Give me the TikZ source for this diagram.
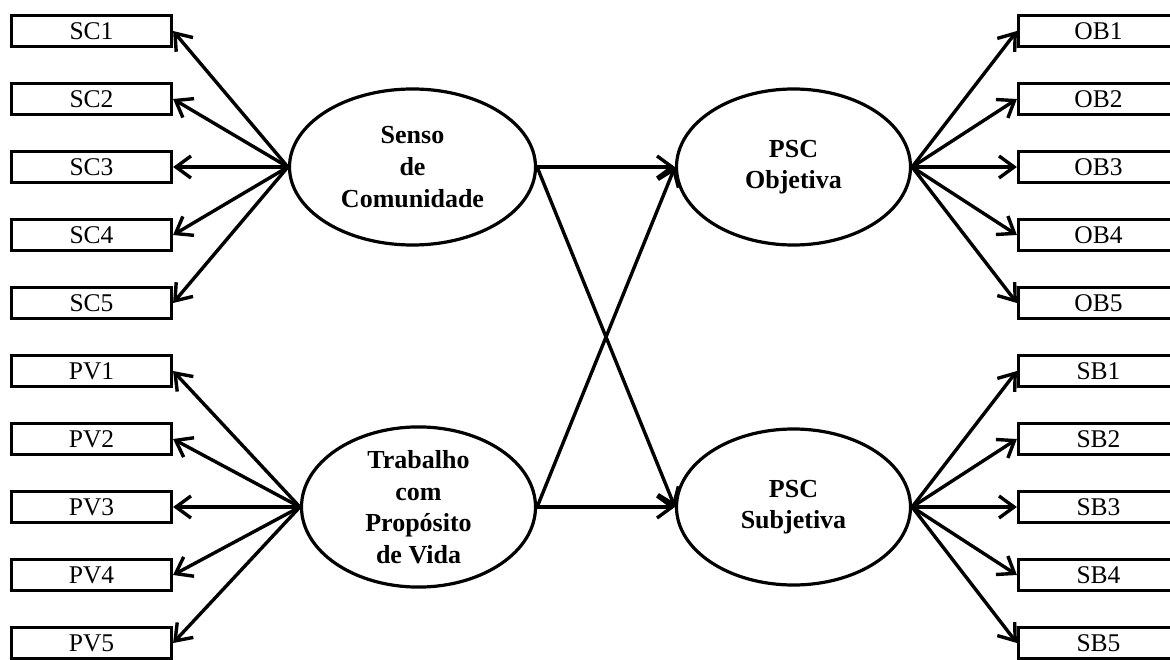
\documentclass[tikz,border=0pt]{standalone}
\usepackage{fontspec}
\setmainfont{Liberation Serif}
\usetikzlibrary{shapes.geometric, arrows.meta, positioning}

\begin{document}
\begin{tikzpicture}[
    x=1pt, y=-1pt,
    indicator/.style={
        rectangle,
        draw,
        line width=3.2pt,
        minimum width=160pt,
        minimum height=31pt,
        inner sep=0pt,
        font=\fontsize{25.5}{30}\selectfont
    },
    construct/.style={
        ellipse,
        draw,
        line width=3.2pt,
        minimum width=234pt,
        minimum height=156pt,
        inner sep=0pt,
        align=center,
        font=\fontsize{26}{31.6}\selectfont\bfseries
    },
    path arrow/.style={line width=3.4pt, -{Straight Barb[length=15pt, width=22pt]}}
]
    \useasboundingbox (0,0) rectangle (1170,660);
    \clip (0,0) rectangle (1170,660);

    % latent variables
    \node[construct, minimum width=246pt] (senso) at (412.5,167) {Senso\\de\\Comunidade};
    \node[construct] (trabalho) at (418.5,507) {Trabalho\\com\\Propósito\\de Vida};
    \node[construct] (objetiva) at (793.5,167) {PSC\\Objetiva};
    \node[construct] (subjetiva) at (793.5,507) {PSC\\Subjetiva};

    % indicators
    \foreach \i in {1,...,5} {
        \node[indicator] (sc\i) at (91.5,{31+68*(\i-1)}) {SC\i};
        \node[indicator] (pv\i) at (91.5,{371+68*(\i-1)}) {PV\i};
        \node[indicator] (ob\i) at (1098.5,{31+68*(\i-1)}) {OB\i};
        \node[indicator] (sb\i) at (1098.5,{371+68*(\i-1)}) {SB\i};
        \draw[path arrow] (senso.west) -- (sc\i.east);
        \draw[path arrow] (trabalho.west) -- (pv\i.east);
        \draw[path arrow] (objetiva.east) -- (ob\i.west);
        \draw[path arrow] (subjetiva.east) -- (sb\i.west);
    }

    % structural paths
    \draw[path arrow] (senso.east) -- (objetiva.west);
    \draw[path arrow] (senso.east) -- (subjetiva.west);
    \draw[path arrow] (trabalho.east) -- (objetiva.west);
    \draw[path arrow] (trabalho.east) -- (subjetiva.west);
\end{tikzpicture}
\end{document}
